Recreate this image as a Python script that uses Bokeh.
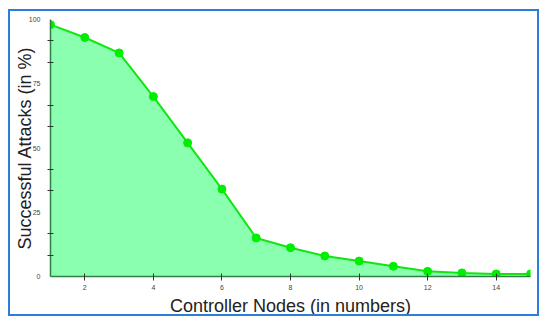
from bokeh.plotting import figure
from bokeh.models import FixedTicker, Range1d, ColumnDataSource
from bokeh.embed import file_html
from bokeh.resources import INLINE

nodes = [1, 2, 3, 4, 5, 6, 7, 8, 9, 10, 11, 12, 13, 14, 15]
attacks = [98, 93, 87, 70, 52, 34, 15, 11.2, 8, 6, 4, 2, 1.4, 1, 1]
x_ticks = [2, 4, 6, 8, 10, 12, 14]
y_ticks = [0, 25, 50, 75, 100]
y_minor = [8.33, 16.67, 33.33, 41.67, 58.33, 66.67, 83.33, 91.67]

src = ColumnDataSource(dict(x=nodes, y=attacks, base=[0] * len(nodes)))

p = figure(width=531, height=307, output_backend="svg", toolbar_location=None,
           x_range=Range1d(1, 15), y_range=Range1d(0, 100),
           min_border_left=40, min_border_right=11, min_border_top=8,
           min_border_bottom=41)
p.styles = {"border": "2px solid #2a7fd8", "margin-left": "8px", "margin-top": "9px"}
p.outline_line_color = None
p.grid.grid_line_color = None

p.varea(x="x", y1="base", y2="y", source=src, fill_color="#8affb0", fill_alpha=1)
p.line(x="x", y="y", source=src, line_color="#11e611", line_width=2)
p.scatter(x="x", y="y", source=src, size=8, fill_color="#00ee00", line_color="#00ee00")

p.xaxis.ticker = FixedTicker(ticks=x_ticks)
p.yaxis.ticker = FixedTicker(ticks=y_ticks, minor_ticks=y_minor)

for ax in (p.xaxis, p.yaxis):
    ax.axis_line_color = "#2f7f45"
    ax.axis_line_width = 1.5
    ax.major_label_text_font = "Liberation Sans"
    ax.major_label_text_font_size = "7px"
    ax.major_label_text_color = "#444444"
    ax.axis_label_text_font = "Liberation Sans"
    ax.axis_label_text_font_size = "18px"
    ax.axis_label_text_font_style = "normal"
    ax.axis_label_text_color = "#222222"

p.xaxis.major_tick_in = 3
p.xaxis.major_tick_out = 4
p.xaxis.major_tick_line_color = "#333333"
p.xaxis.minor_tick_line_color = None
p.xaxis.major_label_standoff = 4
p.xaxis.axis_label = "Controller Nodes (in numbers)"
p.xaxis.axis_label_standoff = 3

p.yaxis.major_tick_in = 0
p.yaxis.major_tick_out = 0
p.yaxis.minor_tick_in = 3
p.yaxis.minor_tick_out = 3
p.yaxis.minor_tick_line_color = "#333333"
p.yaxis.major_label_standoff = 7
p.yaxis.axis_label = "Successful Attacks (in %)"
p.yaxis.axis_label_standoff = -9

open("out.html", "w").write(file_html(p, INLINE))
